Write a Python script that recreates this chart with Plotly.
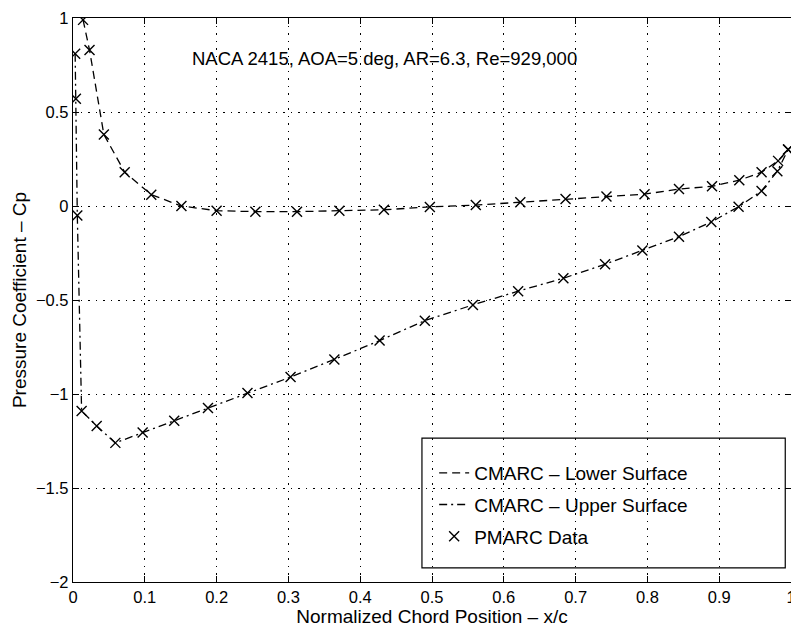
import plotly.graph_objects as go

# Lower surface (dashed curve)
lower_x = [0.014, 0.023, 0.043, 0.072, 0.109, 0.151, 0.200, 0.254, 0.312, 0.371, 0.433,
           0.497, 0.561, 0.623, 0.686, 0.743, 0.796, 0.844, 0.890, 0.928, 0.959, 0.982, 0.996]
lower_cp = [0.99, 0.83, 0.38, 0.18, 0.06, 0.00, -0.025, -0.03, -0.03, -0.025, -0.02,
            -0.005, 0.005, 0.02, 0.037, 0.05, 0.063, 0.09, 0.105, 0.137, 0.18, 0.24, 0.30]

# Upper surface (dash-dot curve)
upper_x = [0.003, 0.004, 0.006, 0.012, 0.033, 0.059, 0.097, 0.141, 0.188, 0.243, 0.303,
           0.364, 0.427, 0.490, 0.557, 0.620, 0.683, 0.741, 0.793, 0.844, 0.889, 0.927,
           0.959, 0.981, 0.996]
upper_cp = [0.81, 0.57, -0.05, -1.09, -1.17, -1.26, -1.205, -1.142, -1.074, -0.995, -0.91,
            -0.816, -0.716, -0.61, -0.526, -0.453, -0.384, -0.31, -0.237, -0.163, -0.085,
            -0.004, 0.08, 0.185, 0.30]

x_ticks = [0, 0.1, 0.2, 0.3, 0.4, 0.5, 0.6, 0.7, 0.8, 0.9, 1]
y_ticks = [-2, -1.5, -1, -0.5, 0, 0.5, 1]
y_tick_text = ["\u22122", "\u22121.5", "\u22121", "\u22120.5", "0", "0.5", "1"]

FONT = "Liberation Sans, Arial, Helvetica, sans-serif"

fig = go.Figure()
fig.add_trace(go.Scatter(x=lower_x, y=lower_cp, mode="lines",
                         line=dict(color="black", width=1.3, dash="8px,5px"),
                         name="CMARC \u2013 Lower Surface", legendgroup="a"))
fig.add_trace(go.Scatter(x=upper_x, y=upper_cp, mode="lines",
                         line=dict(color="black", width=1.3, dash="8px,4px,2px,4px"),
                         name="CMARC \u2013 Upper Surface", legendgroup="b"))
fig.add_trace(go.Scatter(x=lower_x + upper_x, y=lower_cp + upper_cp, mode="markers",
                         marker=dict(symbol="x-thin", size=10, color="black",
                                     line=dict(color="black", width=1.4)),
                         name="PMARC Data", legendgroup="c"))

fig.add_annotation(x=0.434, y=0.784, xref="x", yref="y",
                   text="NACA 2415, AOA=5 deg, AR=6.3, Re=929,000",
                   showarrow=False, font=dict(size=18.5, color="black", family=FONT))

# legend frame
fig.add_shape(type="rect", xref="paper", yref="paper",
              x0=0.486, x1=0.992, y0=0.025, y1=0.255,
              line=dict(color="black", width=1.2), fillcolor="rgba(0,0,0,0)")

axis_common = dict(showline=True, linecolor="black", linewidth=1.3, mirror="allticks",
                   ticks="inside", ticklen=6, tickcolor="black", showgrid=True,
                   gridcolor="black", gridwidth=1, griddash="1.5px,6px", zeroline=False,
                   ticklabeloverflow="allow", automargin=False,
                   tickfont=dict(size=16.5, color="black", family=FONT))

fig.update_xaxes(range=[0, 1], tickvals=x_ticks, ticktext=[f"{v:g}" for v in x_ticks],
                 title=dict(text="Normalized Chord Position \u2013 x/c", standoff=2,
                            font=dict(size=19, color="black", family=FONT)),
                 **axis_common)
fig.update_yaxes(range=[-2, 1], tickvals=y_ticks, ticktext=y_tick_text,
                 title=dict(text="Pressure Coefficient \u2013 Cp", standoff=4,
                            font=dict(size=19, color="black", family=FONT)),
                 **axis_common)

# page body has an 8px margin: compensate so the plot area lands where the reference has it
fig.update_layout(
    width=791, height=632,
    margin=dict(l=65, r=8, t=10, b=58, autoexpand=False),
    paper_bgcolor="white", plot_bgcolor="white",
    font=dict(family=FONT, color="black"),
    showlegend=True,
    legend=dict(x=0.503, y=0.227, xanchor="left", yanchor="top",
                bgcolor="rgba(0,0,0,0)", borderwidth=0, tracegroupgap=4,
                font=dict(size=19, color="black", family=FONT)),
)

fig.write_html("out.html")
